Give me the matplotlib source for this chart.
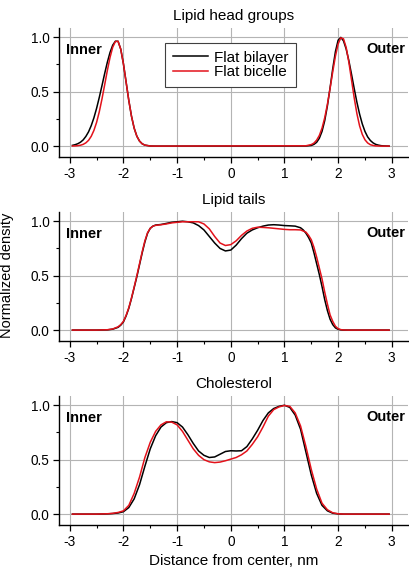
import numpy as np
import matplotlib
matplotlib.use('Agg')
import matplotlib.pyplot as plt
from matplotlib.ticker import MultipleLocator

plt.rcParams['font.family'] = ['Liberation Sans', 'DejaVu Sans']

# ---- lipid head groups ----
head_x = np.r_[np.linspace(-2.95, -1.6, 28), -1.5, -1.4,
               1.4, 1.5, np.linspace(1.55, 2.85, 27), 2.95]
head_bilayer = [0.007, 0.013, 0.022, 0.036, 0.057, 0.089, 0.131, 0.188, 0.26, 0.347,
                0.447, 0.555, 0.666, 0.77, 0.86, 0.927, 0.964, 0.963, 0.891, 0.756,
                0.588, 0.42, 0.275, 0.165, 0.091, 0.046, 0.021, 0.009, 0.001, 0.0,
                0.001, 0.006,
                0.016, 0.035, 0.072, 0.135, 0.233, 0.369, 0.535, 0.712, 0.869, 0.973,
                0.999, 0.967, 0.892, 0.785, 0.659, 0.528, 0.403, 0.294, 0.204, 0.135,
                0.085, 0.052, 0.030, 0.016, 0.009, 0.004, 0.002, 0.0]
head_bicelle = [0.001, 0.002, 0.004, 0.008, 0.016, 0.030, 0.053, 0.09, 0.144, 0.218,
                0.315, 0.432, 0.562, 0.694, 0.814, 0.908, 0.961, 0.963, 0.891, 0.756,
                0.588, 0.42, 0.275, 0.165, 0.091, 0.046, 0.021, 0.009, 0.001, 0.0,
                0.003, 0.014,
                0.028, 0.055, 0.098, 0.165, 0.26, 0.383, 0.529, 0.684, 0.827, 0.938,
                0.995, 0.986, 0.906, 0.771, 0.607, 0.442, 0.298, 0.186, 0.108, 0.058,
                0.029, 0.013, 0.006, 0.002, 0.001, 0.0, 0.0, 0.0]

# ---- lipid tails ----
tail_x = [-2.95, -2.5, -2.3, -2.2, -2.1, -2.05, -2.0, -1.95, -1.9, -1.85, -1.8, -1.75,
          -1.7, -1.65, -1.6, -1.55, -1.5, -1.45, -1.4, -1.3, -1.2, -1.1, -1.0, -0.9,
          -0.8, -0.7, -0.6, -0.5, -0.4, -0.3, -0.2, -0.1, 0.0, 0.1, 0.2, 0.3, 0.4,
          0.5, 0.6, 0.7, 0.8, 0.9, 1.0, 1.1, 1.2, 1.3, 1.35, 1.4, 1.45, 1.5, 1.55,
          1.6, 1.65, 1.7, 1.75, 1.8, 1.85, 1.9, 1.95, 2.0, 2.05, 2.1, 2.2, 2.95]
tail_bilayer = [0.0, 0.0, 0.002, 0.008, 0.025, 0.045, 0.075, 0.13, 0.2, 0.29, 0.39, 0.49,
                0.6, 0.71, 0.81, 0.89, 0.935, 0.955, 0.965, 0.97, 0.98, 0.99, 0.995, 1.0,
                0.995, 0.985, 0.96, 0.92, 0.86, 0.8, 0.75, 0.727, 0.735, 0.78, 0.84, 0.89,
                0.92, 0.94, 0.955, 0.965, 0.968, 0.965, 0.96, 0.958, 0.955, 0.94, 0.92,
                0.89, 0.85, 0.8, 0.71, 0.61, 0.51, 0.4, 0.28, 0.18, 0.1, 0.05, 0.02,
                0.007, 0.002, 0.0, 0.0, 0.0]
tail_bicelle = [0.0, 0.0, 0.003, 0.01, 0.03, 0.05, 0.08, 0.135, 0.205, 0.295, 0.395, 0.5,
                0.61, 0.72, 0.82, 0.895, 0.935, 0.955, 0.962, 0.968, 0.975, 0.985, 0.99,
                0.995, 0.995, 0.995, 0.995, 0.975, 0.93, 0.86, 0.8, 0.777, 0.785, 0.82,
                0.87, 0.91, 0.935, 0.945, 0.943, 0.94, 0.935, 0.93, 0.925, 0.922, 0.922,
                0.92, 0.91, 0.9, 0.87, 0.83, 0.76, 0.67, 0.57, 0.47, 0.35, 0.24, 0.14,
                0.08, 0.035, 0.013, 0.004, 0.001, 0.0, 0.0]

# ---- cholesterol ----
chol_x = [-2.95, -2.5, -2.3, -2.2, -2.1, -2.0, -1.9, -1.8, -1.7, -1.6, -1.5, -1.4, -1.3,
          -1.2, -1.1, -1.0, -0.9, -0.8, -0.7, -0.6, -0.5, -0.4, -0.3, -0.2, -0.1, 0.0,
          0.1, 0.2, 0.3, 0.4, 0.5, 0.6, 0.7, 0.8, 0.9, 1.0, 1.1, 1.2, 1.3, 1.4, 1.5,
          1.6, 1.7, 1.8, 1.9, 2.0, 2.1, 2.95]
chol_bilayer = [0.0, 0.0, 0.002, 0.005, 0.01, 0.022, 0.06, 0.14, 0.27, 0.44, 0.6, 0.72,
                0.8, 0.84, 0.85, 0.84, 0.8, 0.73, 0.65, 0.58, 0.54, 0.52, 0.525, 0.55,
                0.575, 0.582, 0.58, 0.582, 0.62, 0.69, 0.77, 0.86, 0.93, 0.97, 0.99, 1.0,
                0.98, 0.91, 0.78, 0.57, 0.36, 0.19, 0.08, 0.03, 0.008, 0.002, 0.0, 0.0]
chol_bicelle = [0.0, 0.0, 0.003, 0.007, 0.015, 0.03, 0.08, 0.19, 0.34, 0.52, 0.66, 0.76,
                0.82, 0.848, 0.845, 0.82, 0.76, 0.68, 0.6, 0.54, 0.5, 0.48, 0.473, 0.478,
                0.49, 0.505, 0.52, 0.545, 0.58, 0.64, 0.71, 0.8, 0.9, 0.96, 0.985, 0.998,
                0.99, 0.93, 0.81, 0.62, 0.41, 0.23, 0.1, 0.04, 0.012, 0.003, 0.0, 0.0]

titles = ['Lipid head groups', 'Lipid tails', 'Cholesterol']
panels = [(head_x, head_bilayer, head_bicelle),
          (tail_x, tail_bilayer, tail_bicelle),
          (chol_x, chol_bilayer, chol_bicelle)]
bottoms = [0.7265, 0.406, 0.0854]

fig = plt.figure(figsize=(4.09, 5.74), dpi=100)

for i, (x, yb, yc) in enumerate(panels):
    ax = fig.add_axes([0.1443, bottoms[i], 0.853, 0.2247])
    ax.plot(x, yb, color='black', lw=1.1, label='Flat bilayer')
    ax.plot(x, yc, color='#e3121b', lw=1.1, label='Flat bicelle')
    ax.set_xlim(-3.2, 3.3)
    ax.set_ylim(-0.1, 1.085)
    ax.xaxis.set_major_locator(MultipleLocator(1))
    ax.xaxis.set_minor_locator(MultipleLocator(0.5))
    ax.yaxis.set_major_locator(MultipleLocator(0.5))
    ax.yaxis.set_minor_locator(MultipleLocator(0.25))
    ax.xaxis.set_major_formatter(plt.FuncFormatter(lambda v, p: '%d' % round(v)))
    ax.yaxis.set_major_formatter(plt.FormatStrFormatter('%.1f'))
    ax.tick_params(which='major', direction='out', length=4, width=0.9,
                   labelsize=9.8, pad=3)
    ax.tick_params(which='minor', direction='out', length=2.5, width=0.8)
    ax.grid(True, which='major', color='#b4b4b4', lw=0.8)
    ax.set_axisbelow(True)
    for s in ['top', 'right']:
        ax.spines[s].set_visible(False)
    for s in ['left', 'bottom']:
        ax.spines[s].set_linewidth(1.0)
    ax.set_title(titles[i], fontsize=11, pad=6)
    ax.text(-3.07, 0.88, 'Inner', fontsize=10.5, fontweight='bold', va='center')
    ax.text(2.53, 0.89, 'Outer', fontsize=10.5, fontweight='bold', va='center')
    if i == 0:
        leg = ax.legend(loc='upper left', bbox_to_anchor=(0.304, 0.884),
                        borderaxespad=0, fontsize=11, fancybox=False,
                        edgecolor='#404040', framealpha=1, handlelength=2.3,
                        handletextpad=0.4, borderpad=0.5, labelspacing=0.05)
        leg.get_frame().set_linewidth(0.8)
    if i == 2:
        ax.set_xlabel('Distance from center, nm', fontsize=11, labelpad=4)

fig.text(0.016, 0.52, 'Normalized density', rotation=90, fontsize=10.5,
         ha='center', va='center')

fig.savefig('out.png', dpi=100)
